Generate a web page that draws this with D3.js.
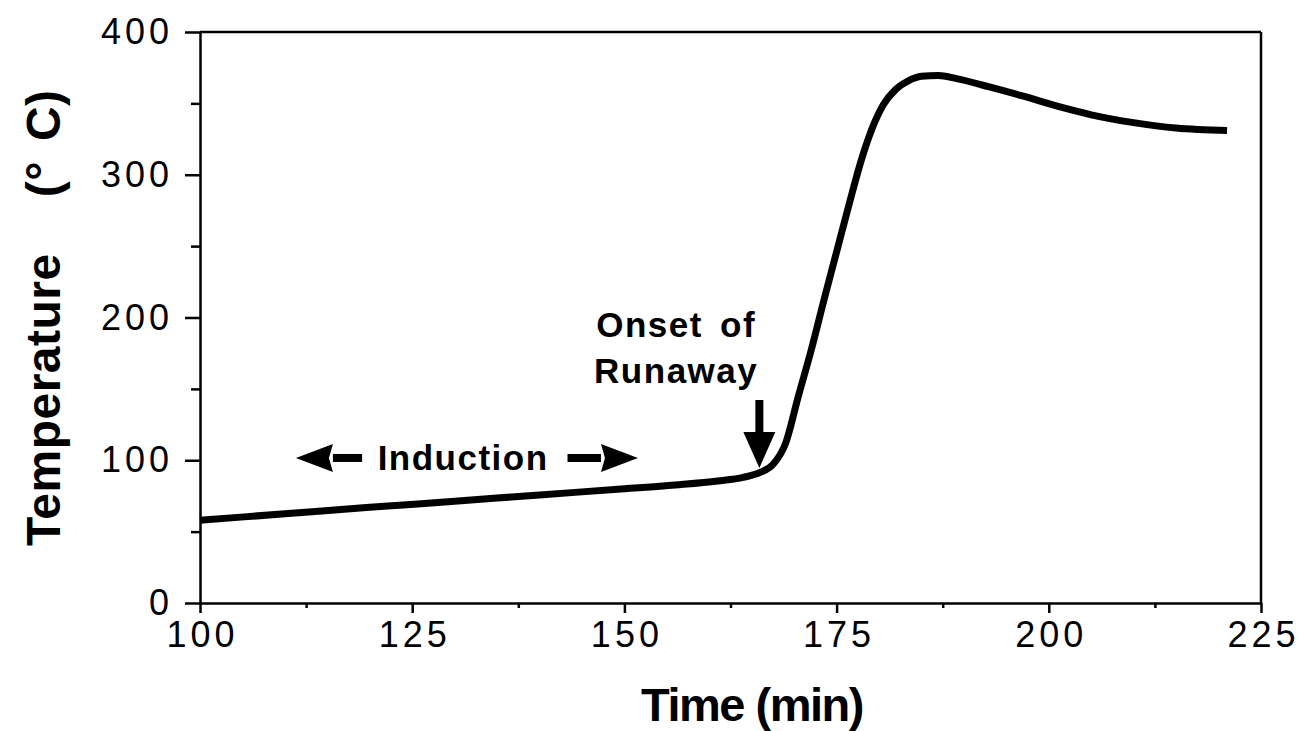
<!DOCTYPE html>
<html>
<head>
<meta charset="utf-8">
<script src="https://cdn.jsdelivr.net/npm/d3@7"></script>
<style>
  body { margin: 0; background: #fff; }
  text { fill: #000; }
</style>
</head>
<body>
<div class="chart"></div>
<script>
// Chart data
const time = [100, 110, 120, 130, 140, 150, 156, 161, 164, 166, 167.5, 169, 170.5, 172, 173.5, 175,
              176.5, 178, 179.5, 180.5, 182, 183.5, 185, 187, 189, 193, 197, 201, 205, 210, 215, 221];
const temperature = [58, 62.5, 67, 71.3, 75.7, 80, 82.7, 85.5, 88, 91.5, 97, 112, 145, 177, 212, 246,
                     280, 312, 337, 349, 360, 366, 369, 369.5, 367.5, 361.5, 355, 348, 342, 336.5, 332.7, 331];
const xTicks = [100, 125, 150, 175, 200, 225];
const xMinor = [112.5, 137.5, 162.5, 187.5, 212.5];
const yTicks = [0, 100, 200, 300, 400];
const yMinor = [50, 150, 250, 350];

// Annotations (in data units)
const inductionArrows = [{tail: 119.1, tip: 111.3}, {tail: 143.3, tip: 151.6}];
const inductionLevel = 101.6;
const onsetArrow = {t: 165.9, top: 142.2, tip: 94.6};

// Sizes
const width = 1305;
const height = 731;
const margin = {top: 32, right: 44, bottom: 128, left: 200};
const inner_width = width - margin.left - margin.right;
const inner_height = height - margin.top - margin.bottom;

const svg = d3.select('.chart').append('svg')
    .attr('width', width)
    .attr('height', height);

const xScale = d3.scaleLinear().domain([100, 225]).range([0, inner_width]);
const yScale = d3.scaleLinear().domain([0, 400]).range([inner_height, 0]);

const chart = svg.append('g').attr('transform', `translate(${margin.left}, ${margin.top})`);

const tickFont = g => g.selectAll('text')
    .style('font-family', '"Liberation Sans", Arial, sans-serif')
    .style('font-size', '36px')
    .style('letter-spacing', '4px')
    .attr('fill', '#000');

// Minor ticks
chart.append('g')
    .attr('transform', `translate(0, ${inner_height})`)
    .call(d3.axisBottom(xScale).tickValues(xMinor).tickSize(5).tickFormat(''))
    .call(g => g.select('.domain').remove())
    .call(g => g.selectAll('line').attr('stroke-width', 2.5));
chart.append('g')
    .call(d3.axisLeft(yScale).tickValues(yMinor).tickSize(9).tickFormat(''))
    .call(g => g.select('.domain').remove())
    .call(g => g.selectAll('line').attr('stroke-width', 2.5));

// Major axes
chart.append('g')
    .attr('transform', `translate(0, ${inner_height})`)
    .call(d3.axisBottom(xScale).tickValues(xTicks).tickSize(10).tickSizeOuter(0).tickPadding(8))
    .call(g => g.select('.domain').attr('stroke-width', 2.5))
    .call(g => g.selectAll('.tick line').attr('stroke-width', 2.5))
    .call(tickFont)
    .call(g => g.selectAll('text').attr('dx', '2px'));

chart.append('g')
    .call(d3.axisLeft(yScale).tickValues(yTicks).tickSize(15).tickSizeOuter(0).tickPadding(12))
    .call(g => g.select('.domain').attr('stroke-width', 2.5))
    .call(g => g.selectAll('.tick line').attr('stroke-width', 2.5))
    .call(tickFont);

// Frame top and right
chart.append('line')
    .attr('x1', 0).attr('x2', inner_width).attr('y1', 0).attr('y2', 0)
    .attr('stroke', '#000').attr('stroke-width', 2.5);
chart.append('line')
    .attr('x1', inner_width).attr('x2', inner_width).attr('y1', 0).attr('y2', inner_height)
    .attr('stroke', '#000').attr('stroke-width', 2.5);

// Curve
const line = d3.line()
    .x(i => xScale(time[i]))
    .y(i => yScale(temperature[i]))
    .curve(d3.curveMonotoneX);

chart.append('path')
    .datum(d3.range(time.length))
    .attr('d', line)
    .attr('fill', 'none')
    .attr('stroke', '#000')
    .attr('stroke-width', 7)
    .attr('stroke-linecap', 'butt');

// Induction arrows
const headLen = 37, headHalf = 14;
inductionArrows.forEach(a => {
    const dir = Math.sign(xScale(a.tip) - xScale(a.tail));
    const yy = yScale(inductionLevel);
    const base = xScale(a.tip) - dir * headLen;
    chart.append('line')
        .attr('x1', xScale(a.tail)).attr('x2', base)
        .attr('y1', yy).attr('y2', yy)
        .attr('stroke', '#000').attr('stroke-width', 8);
    chart.append('path')
        .attr('d', `M${xScale(a.tip)},${yy} L${base},${yy - headHalf} L${base + dir * 4},${yy} L${base},${yy + headHalf} Z`)
        .attr('fill', '#000');
});

// Onset arrow
{
    const xx = xScale(onsetArrow.t);
    const tipY = yScale(onsetArrow.tip);
    const baseY = tipY - 36;
    chart.append('line')
        .attr('x1', xx).attr('x2', xx)
        .attr('y1', yScale(onsetArrow.top)).attr('y2', baseY + 2)
        .attr('stroke', '#000').attr('stroke-width', 8);
    chart.append('path')
        .attr('d', `M${xx},${tipY} L${xx - 16},${baseY} L${xx + 16},${baseY} Z`)
        .attr('fill', '#000');
}

// Annotation labels
const labelStyle = sel => sel
    .style('font-family', '"Liberation Sans", Arial, sans-serif')
    .style('font-weight', 'bold')
    .style('font-size', '35px')
    .style('letter-spacing', '1.5px')
    .attr('text-anchor', 'middle');

chart.append('text')
    .attr('x', xScale(131)).attr('y', yScale(93))
    .text('Induction')
    .call(labelStyle);
chart.append('text')
    .attr('x', xScale(156.1)).attr('y', yScale(186))
    .text('Onset of')
    .call(labelStyle)
    .style('word-spacing', '6px');
chart.append('text')
    .attr('x', xScale(156.1)).attr('y', yScale(154))
    .text('Runaway')
    .call(labelStyle);

// Axis titles
svg.append('text')
    .attr('x', 752)
    .attr('y', 721)
    .attr('text-anchor', 'middle')
    .style('font-family', '"Liberation Sans", Arial, sans-serif')
    .style('font-weight', 'bold')
    .style('font-size', '47px')
    .style('letter-spacing', '-1.5px')
    .text('Time (min)');

const ytitle = svg.append('text')
    .attr('transform', 'translate(60, 546) rotate(-90)')
    .attr('text-anchor', 'start')
    .style('font-family', '"Liberation Sans", Arial, sans-serif')
    .style('font-weight', 'bold')
    .style('font-size', '48px')
    .style('letter-spacing', '0.5px');
ytitle.append('tspan').text('Temperature');
ytitle.append('tspan').attr('dx', 56).text('(°');
ytitle.append('tspan').attr('dx', 20).text('C)');
</script>
</body>
</html>
